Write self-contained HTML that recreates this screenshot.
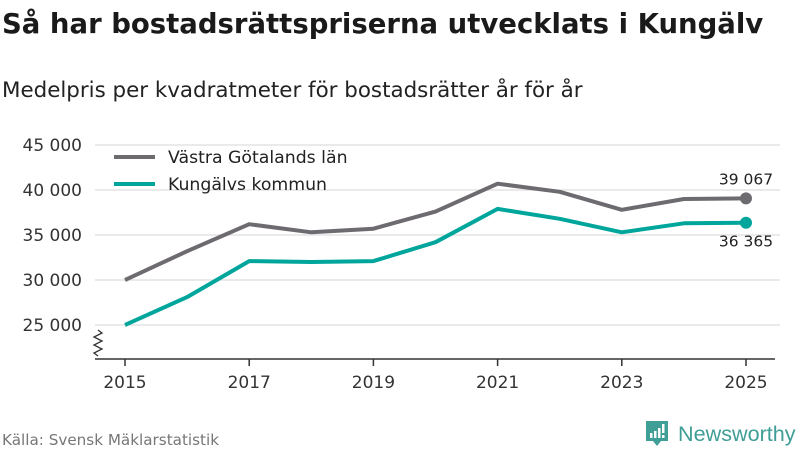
<!DOCTYPE html>
<html><head><meta charset="utf-8"><style>
body{margin:0;width:800px;height:450px;background:#fff;font-family:"DejaVu Sans","Liberation Sans",sans-serif;overflow:hidden}
</style></head><body>
<svg width="800" height="450" xmlns="http://www.w3.org/2000/svg">
<text x="2" y="33" font-size="27.5" font-weight="bold" fill="#1a1a1a">Så har bostadsrättspriserna utvecklats i Kungälv</text>
<text x="2" y="97" font-size="21.4" fill="#222">Medelpris per kvadratmeter för bostadsrätter år för år</text>
<g id="grid"></g>
<g id="yt"></g>
<path d="M98 330 l4 3 -8 4 8 4 -8 4 8 4 -8 4 4 3" fill="none" stroke="#333" stroke-width="1.3"/>
<line x1="95" y1="359" x2="775" y2="359" stroke="#333" stroke-width="1.5"/>
<g id="xt"></g>
<g id="series"></g>
<g>
<line x1="114" y1="157" x2="155" y2="157" stroke="#6d6a70" stroke-width="4"/>
<text x="168" y="163" font-size="17.3" fill="#222">Västra Götalands län</text>
<line x1="114" y1="184" x2="155" y2="184" stroke="#00a69c" stroke-width="4"/>
<text x="168" y="190" font-size="17.3" fill="#222">Kungälvs kommun</text>
</g>
<text x="2" y="445" font-size="15.2" fill="#777">Källa: Svensk Mäklarstatistik</text>
<g>
<path d="M646 421 h22 v20 h-7 l-4 5 -4 -5 h-7z" fill="#3f9e96"/>
<rect x="650" y="433" width="2.5" height="5" fill="#fff"/><rect x="654" y="431" width="2.5" height="7" fill="#fff"/><rect x="658" y="428" width="2.5" height="10" fill="#fff"/><rect x="662" y="424" width="2.5" height="9" fill="#fff"/><rect x="662" y="435" width="2.5" height="3" fill="#fff"/>
<text x="678" y="441" font-size="21.6" fill="#3f9e96" font-family="Liberation Sans, sans-serif">Newsworthy</text>
</g>
</svg>
<script>
const years=[2015,2016,2017,2018,2019,2020,2021,2022,2023,2024,2025];
const vgl=[30000,33200,36200,35300,35700,37600,40700,39800,37800,39000,39067];
const kungalv=[25000,28100,32100,32000,32100,34200,37900,36800,35300,36300,36365];
const yTicks=[25000,30000,35000,40000,45000];
const xTicks=[2015,2017,2019,2021,2023,2025];
const NS="http://www.w3.org/2000/svg";
const x=v=>125+(v-2015)*62.1;
const y=v=>325-(v-25000)*0.009;
function mk(t,a,p){const e=document.createElementNS(NS,t);for(const k in a)e.setAttribute(k,a[k]);p.appendChild(e);return e;}
const g=document.getElementById('grid'),yt=document.getElementById('yt'),xt=document.getElementById('xt'),s=document.getElementById('series');
yTicks.forEach(v=>{
 const l=mk('line',{x1:95,x2:780,y1:y(v),y2:y(v),stroke:'#ddd','stroke-width':1.3},g);
 
 
 const t=mk('text',{x:82,y:y(v)+6,'text-anchor':'end','font-size':17,fill:'#333'},yt);
 t.textContent=String(v).replace(/\B(?=(\d{3})+(?!\d))/g,' ');
 
 
});
xTicks.forEach(v=>{
 const l=mk('line',{x1:x(v),x2:x(v),y1:359,y2:366,stroke:'#333','stroke-width':1.5},xt);
 
 
 const t=mk('text',{x:x(v),y:388,'text-anchor':'middle','font-size':17,fill:'#333'},xt);
 t.textContent=v;
 
 
});
[[vgl,'#6d6a70','vgl',-14],[kungalv,'#00a69c','kungalv',24]].forEach(([d,c,n,off])=>{
 const p=mk('polyline',{points:d.map((v,i)=>x(years[i])+','+y(v)).join(' '),fill:'none',stroke:c,'stroke-width':4,'stroke-linejoin':'round'},s);
 
 
 const last=d.length-1;
 const dot=mk('circle',{cx:x(years[last]),cy:y(d[last]),r:6,fill:c},s);
 
 
 const t=mk('text',{x:x(years[last]),y:y(d[last])+off,'text-anchor':'middle','font-size':15.5,fill:'#222'},s);
 t.textContent=String(d[last]).replace(/\B(?=(\d{3})+(?!\d))/g,' ');
 
 
});
</script>
</body></html>
